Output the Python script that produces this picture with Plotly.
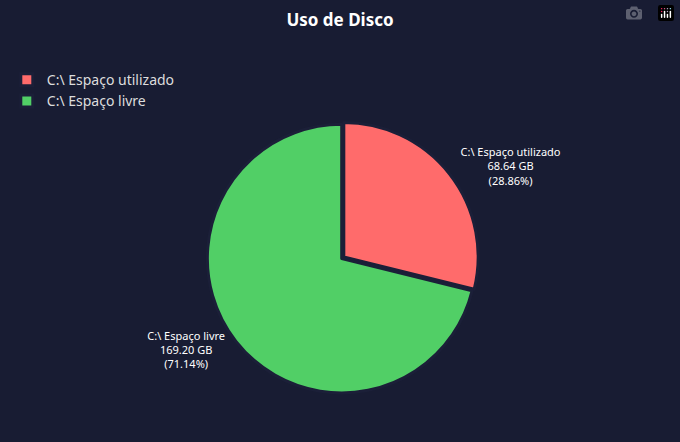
import plotly.graph_objects as go

labels = ["C:\\ Espaço utilizado", "C:\\ Espaço livre"]
values = [68.64, 169.20]
colors = ["#ff6b6b", "#51cf66"]

total = sum(values)
texts = [f"{l}<br>{v:.2f} GB<br>({v/total*100:.2f}%)" for l, v in zip(labels, values)]

fig = go.Figure(go.Pie(
    labels=labels, values=values, sort=False, direction="clockwise", rotation=0,
    marker=dict(colors=colors, line=dict(color="#1b1f38", width=3)),
    text=texts, textinfo="text", textposition="outside",
    textfont=dict(color="#ffffff", size=11, family="Noto Sans"),
    pull=[0.02, 0], hoverinfo="label+value+percent",
    domain=dict(x=[0.30, 0.705], y=[0.105, 0.725]),
    automargin=False,
))
fig.update_layout(
    width=680, height=442, margin=dict(l=0, r=0, t=0, b=0),
    paper_bgcolor="#181c33", plot_bgcolor="#181c33",
    title=dict(text="<b>Uso de Disco</b>", x=0.5, xanchor="center", y=0.955, yanchor="middle",
               font=dict(color="#ffffff", size=17, family="Noto Sans")),
    legend=dict(x=0.01, y=0.855, xanchor="left", yanchor="top", bgcolor="rgba(0,0,0,0)",
                font=dict(color="#dddddd", size=14, family="Noto Sans"), itemwidth=30),
)
fig.write_html("out.html")
with open("out.html", encoding="utf-8") as f:
    html = f.read()
html = html.replace("<head>", "<head><style>html,body{margin:0;padding:0;background:#181c33;}</style>", 1)
with open("out.html", "w", encoding="utf-8") as f:
    f.write(html)
